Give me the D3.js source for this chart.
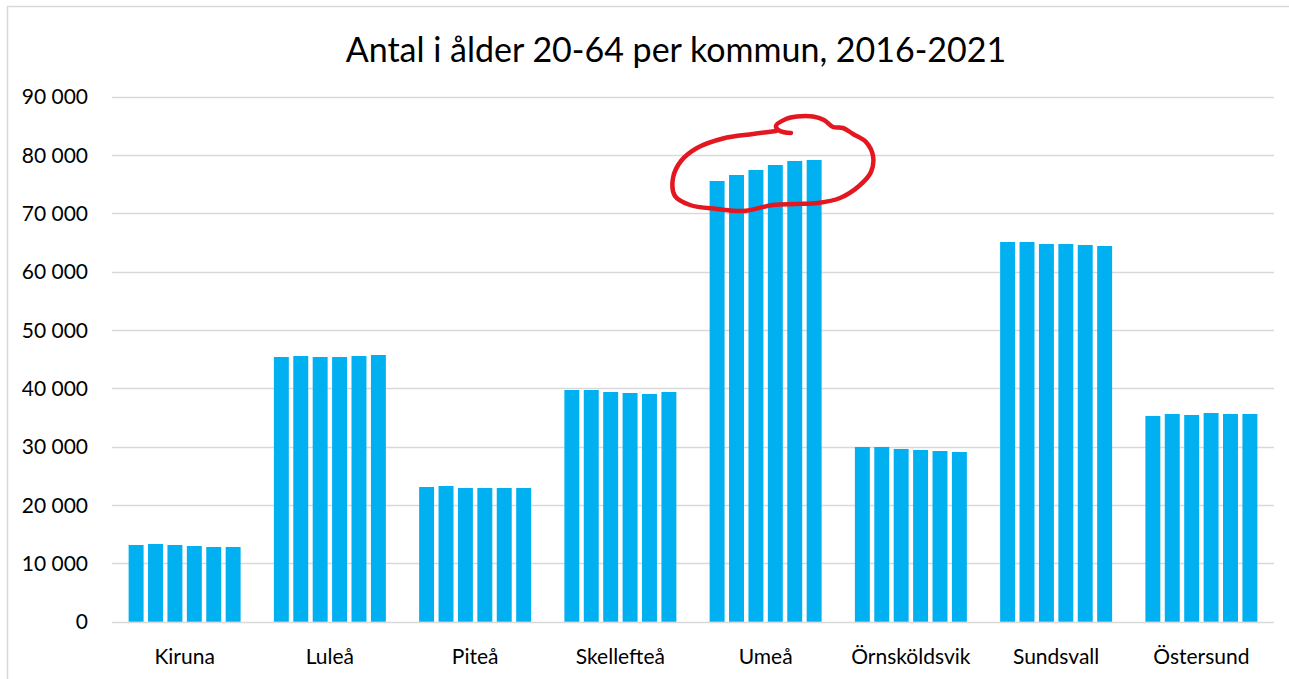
<!DOCTYPE html>
<html>
<head>
<meta charset="utf-8">
<script src="https://cdn.jsdelivr.net/npm/d3@7"></script>
<style>
  body { margin: 0; background: #fff; }
  svg { display: block; font-family: Lato, "Open Sans", sans-serif; }
  .grid line { stroke: #d9d9d9; stroke-width: 1.3; }
  .tick-label { font-size: 21px; fill: #000; }
  .title { font-size: 34px; fill: #000; }
</style>
</head>
<body>
<svg id="chart" width="1289" height="679"></svg>
<script>
(function () {
  "use strict";

  const kommuner = ["Kiruna", "Luleå", "Piteå", "Skellefteå", "Umeå", "Örnsköldsvik", "Sundsvall", "Östersund"];
  const years = ["2016", "2017", "2018", "2019", "2020", "2021"];

  // antal 20-64 år, per år 2016..2021
  const kiruna = [13150, 13320, 13150, 12980, 12810, 12810];
  const lulea = [45380, 45550, 45380, 45380, 45550, 45720];
  const pitea = [23090, 23260, 22920, 22920, 22920, 22920];
  const skelleftea = [39720, 39720, 39380, 39210, 39040, 39380];
  const umea = [75550, 76580, 77440, 78290, 78980, 79150];
  const ornskoldsvik = [29950, 29950, 29610, 29440, 29260, 29090];
  const sundsvall = [65090, 65090, 64750, 64750, 64580, 64410];
  const ostersund = [35270, 35610, 35440, 35780, 35610, 35610];

  const yTicks = [0, 10000, 20000, 30000, 40000, 50000, 60000, 70000, 80000, 90000];

  const values = [kiruna, lulea, pitea, skelleftea, umea, ornskoldsvik, sundsvall, ostersund];

  const svg = d3.select("#chart");
  const W = 1289, H = 679;
  const plot = { left: 112, right: 1274, top: 96.7, bottom: 621.7 };

  // outer chart frame
  svg.append("rect")
    .attr("x", 7.5).attr("y", 6.5)
    .attr("width", W).attr("height", H)
    .attr("fill", "#fff")
    .attr("stroke", "#d9d9d9").attr("stroke-width", 1.5);

  svg.append("text")
    .attr("class", "title")
    .attr("x", 676).attr("y", 62)
    .attr("text-anchor", "middle")
    .text("Antal i ålder 20-64 per kommun, 2016-2021");

  const y = d3.scaleLinear().domain([0, 90000]).range([plot.bottom, plot.top]);
  const x0 = d3.scaleBand().domain(kommuner).range([plot.left, plot.right])
    .paddingInner(0.229).paddingOuter(0.1145);
  const x1 = d3.scaleBand().domain(years).range([0, x0.bandwidth()])
    .paddingInner(0.23).paddingOuter(0);

  const fmt = (v) => d3.format(",")(v).replace(/,/g, " ");

  const grid = svg.append("g").attr("class", "grid");
  grid.selectAll("line").data(yTicks).enter().append("line")
    .attr("x1", plot.left).attr("x2", plot.right)
    .attr("y1", (d) => Math.round(y(d)) + 0.5)
    .attr("y2", (d) => Math.round(y(d)) + 0.5);

  svg.append("g").selectAll("text").data(yTicks).enter().append("text")
    .attr("class", "tick-label")
    .attr("x", 88).attr("y", (d) => y(d))
    .attr("dy", "0.36em")
    .attr("text-anchor", "end")
    .text(fmt);

  const groups = svg.append("g").selectAll("g").data(kommuner).enter().append("g")
    .attr("transform", (d) => `translate(${x0(d)},0)`);

  groups.selectAll("rect")
    .data((d, i) => values[i].map((v, j) => ({ year: years[j], value: v })))
    .enter().append("rect")
    .attr("x", (d) => x1(d.year))
    .attr("width", x1.bandwidth())
    .attr("y", (d) => y(d.value))
    .attr("height", (d) => y(0) - y(d.value))
    .attr("fill", "#00b0f0");

  svg.append("g").selectAll("text").data(kommuner).enter().append("text")
    .attr("class", "tick-label")
    .attr("x", (d) => x0(d) + x0.bandwidth() / 2)
    .attr("y", 656)
    .attr("dy", "0.36em")
    .attr("text-anchor", "middle")
    .text((d) => d);

  // handritad röd ring runt Umeå (annotation, pixel points)
  const ring = [
    [776, 131], [753, 134], [723, 138.5], [697, 148], [681, 161], [673, 178],
    [675, 196], [690, 205], [717, 209], [743, 211], [773, 205], [796, 204],
    [818, 203], [840, 198], [859, 186], [871, 172], [873, 156], [866, 142],
    [853, 134], [843, 128], [833, 127], [824, 120], [813, 116.5], [797, 116.5],
    [786, 119], [776, 126], [780, 131], [791, 133]
  ];
  svg.append("path")
    .attr("d", d3.line().curve(d3.curveCatmullRom.alpha(0.5))(ring))
    .attr("fill", "none")
    .attr("stroke", "#e4161f")
    .attr("stroke-width", 4.5)
    .attr("stroke-linecap", "round")
    .attr("stroke-linejoin", "round");
})();
</script>
</body>
</html>
